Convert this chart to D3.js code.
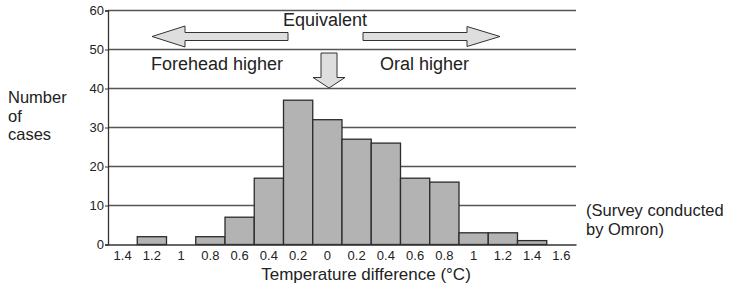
<!DOCTYPE html>
<html>
<head>
<meta charset="utf-8">
<script src="https://cdn.jsdelivr.net/npm/d3@7"></script>
<style>
  body { margin: 0; background: #fff; }
  svg text { font-family: "Liberation Sans", Arial, sans-serif; fill: #222; }
</style>
</head>
<body>
<div class="chart"></div>
<script>
// bins of the temperature difference (left half: forehead higher, right half: oral higher)
var binLabels = ["1.4", "1.2", "1", "0.8", "0.6", "0.4", "0.2", "0", "0.2", "0.4", "0.6", "0.8", "1", "1.2", "1.4", "1.6"];
var counts = [0, 2, 0, 2, 7, 17, 37, 32, 27, 26, 17, 16, 3, 3, 1, 0];
var yTicks = [0, 10, 20, 30, 40, 50, 60];
var yTitleLines = ["Number", "of", "cases"];
var noteLines = ["(Survey conducted", "by Omron)"];

var svgWidth = 743;
var svgHeight = 285;

var margin = { top: 10.5, right: 167, bottom: 40.5, left: 108 };
var width = svgWidth - margin.left - margin.right;
var height = svgHeight - margin.top - margin.bottom;

var svg = d3.select(".chart")
  .append("svg")
  .attr("width", svgWidth)
  .attr("height", svgHeight);

var chartGroup = svg.append("g")
  .attr("transform", `translate(${margin.left}, ${margin.top})`);

var xScale = d3.scaleBand()
  .domain(d3.range(binLabels.length))
  .range([0, width])
  .padding(0);

var yScale = d3.scaleLinear()
  .domain([0, 60])
  .range([height, 0]);

// grid lines
chartGroup.selectAll(".grid")
  .data(yTicks.slice(1))
  .enter()
  .append("line")
  .attr("x1", 0)
  .attr("x2", width)
  .attr("y1", d => yScale(d))
  .attr("y2", d => yScale(d))
  .attr("stroke", "#555")
  .attr("stroke-width", 1.6);

// bars
chartGroup.selectAll("rect.bar")
  .data(counts)
  .enter()
  .append("rect")
  .attr("class", "bar")
  .attr("x", (d, i) => xScale(i))
  .attr("y", d => yScale(d))
  .attr("width", xScale.bandwidth())
  .attr("height", d => height - yScale(d))
  .attr("fill", "#b3b3b3")
  .attr("stroke", "#2b2b2b")
  .attr("stroke-width", 1.3);

// y axis
var leftAxis = d3.axisLeft(yScale).tickValues(yTicks).tickSize(3).tickPadding(1);
var yAxisG = chartGroup.append("g").call(leftAxis);
yAxisG.select(".domain").attr("stroke", "#333").attr("stroke-width", 1.3);
yAxisG.selectAll(".tick line").attr("stroke", "#333");
yAxisG.selectAll(".tick text")
  .style("font-family", "Liberation Sans, Arial, sans-serif")
  .style("font-size", "13px")
  .attr("fill", "#222");

// x axis
var bottomAxis = d3.axisBottom(xScale)
  .tickFormat(i => binLabels[i])
  .tickSize(0)
  .tickPadding(6);
var xAxisG = chartGroup.append("g")
  .attr("transform", `translate(0, ${height})`)
  .call(bottomAxis);
xAxisG.select(".domain").attr("stroke", "#333").attr("stroke-width", 1.6);
xAxisG.selectAll(".tick text")
  .style("font-family", "Liberation Sans, Arial, sans-serif")
  .style("font-size", "13px")
  .attr("fill", "#222");

// annotation arrows
var arrowStyle = function(sel) {
  sel.attr("fill", "#dedede").attr("stroke", "#333").attr("stroke-width", 1);
};
var cy = 36.5;
// left arrow (forehead higher)
svg.append("path")
  .attr("d", `M152,${cy} L185,${cy - 10.5} L185,${cy - 4} L288,${cy - 4} L288,${cy + 4} L185,${cy + 4} L185,${cy + 10.5} Z`)
  .call(arrowStyle);
// right arrow (oral higher)
svg.append("path")
  .attr("d", `M500,${cy} L467,${cy - 10} L467,${cy - 4} L363,${cy - 4} L363,${cy + 4} L467,${cy + 4} L467,${cy + 10} Z`)
  .call(arrowStyle);
// down arrow (equivalent)
var ax = 329;
svg.append("path")
  .attr("d", `M${ax},88 L${ax - 16},77.5 L${ax - 8},77.5 L${ax - 8},53 L${ax + 8},53 L${ax + 8},77.5 L${ax + 16},77.5 Z`)
  .call(arrowStyle);

svg.append("text").attr("x", 283).attr("y", 25.5)
  .style("font-size", "18px").text("Equivalent");
svg.append("text").attr("x", 151).attr("y", 69.5)
  .style("font-size", "18px").text("Forehead higher");
svg.append("text").attr("x", 380).attr("y", 69.5)
  .style("font-size", "18px").text("Oral higher");

// y axis title, one text per line
svg.selectAll(".ytitle")
  .data(yTitleLines)
  .enter()
  .append("text")
  .attr("class", "ytitle")
  .attr("x", 8)
  .attr("y", (d, i) => 103 + i * 18.5)
  .style("font-size", "16.5px")
  .text(d => d);

// x axis title
svg.append("text")
  .attr("x", 366)
  .attr("y", 280)
  .attr("text-anchor", "middle")
  .style("font-size", "17px")
  .text("Temperature difference (°C)");

// source note
svg.selectAll(".note")
  .data(noteLines)
  .enter()
  .append("text")
  .attr("class", "note")
  .attr("x", 586)
  .attr("y", (d, i) => 216 + i * 18.5)
  .style("font-size", "16.5px")
  .text(d => d);
</script>
</body>
</html>
